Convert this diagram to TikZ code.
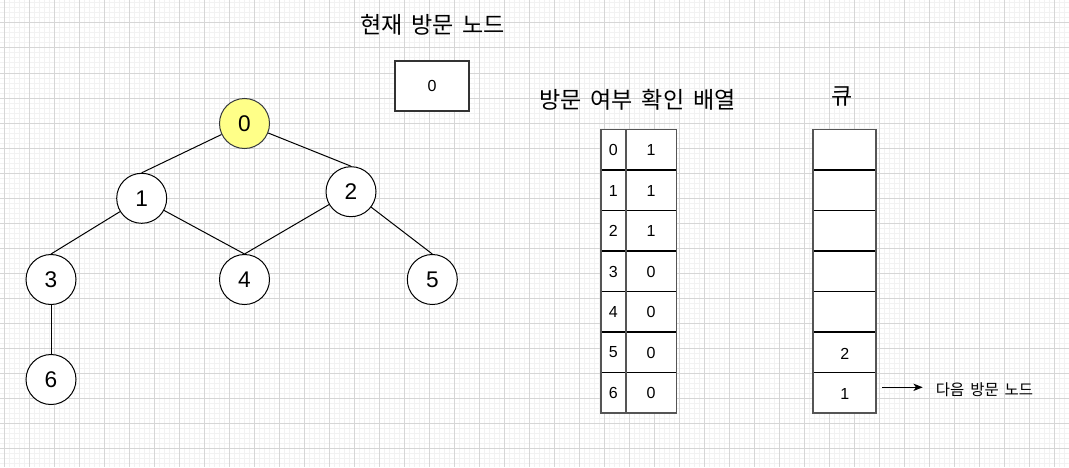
\documentclass[tikz,border=0pt]{standalone}
\usepackage{fontspec}
\setmainfont{Liberation Sans}
\newfontfamily\kr{Noto Sans CJK KR}
\usetikzlibrary{arrows.meta}
\newcommand{\ks}{\hspace{0.38em}}
\definecolor{minorgrid}{RGB}{242,242,242}
\definecolor{majorgrid}{RGB}{214,214,214}
\definecolor{visitfill}{RGB}{255,255,136}
\definecolor{visitdraw}{RGB}{54,57,61}
\definecolor{boxdraw}{RGB}{51,51,51}
\definecolor{tabdraw}{RGB}{85,85,85}
\tikzset{
  gridminor/.style={draw=minorgrid,line width=0.75pt},
  gridmajor/.style={draw=majorgrid,line width=0.75pt},
  treenode/.style={circle,draw=black,fill=white,line width=0.75pt,minimum size=37.5pt,inner sep=0pt,font=\fontsize{17}{20}\selectfont},
  visited/.style={treenode,draw=visitdraw,fill=visitfill},
  edge/.style={draw=black,line width=0.75pt},
  title/.style={font=\kr\fontsize{17.3}{20}\selectfont,inner sep=0pt},
  cell/.style={font=\fontsize{12}{14}\selectfont,inner sep=0pt},
  tabline/.style={draw=tabdraw,line width=1.4pt},
  rowline/.style={draw=black,line width=0.8pt},
  curbox/.style={draw=boxdraw,line width=2.2pt,fill=white,minimum width=55.5pt,minimum height=37.5pt,inner sep=0pt,font=\fontsize{12}{14}\selectfont}
}
\begin{document}
\begin{tikzpicture}[x=0.75pt,y=-0.75pt]
\useasboundingbox (0,0) rectangle (1069,467);
\fill[white] (0,0) rectangle (1069,467);
% grid
\foreach \x in {4,9,...,1069} \draw[gridminor] (\x,0) -- (\x,467);
\foreach \y in {3,8,...,467} \draw[gridminor] (0,\y) -- (1069,\y);
\foreach \x in {4,29,...,1069} \draw[gridmajor] (\x,0) -- (\x,467);
\foreach \y in {23,48,...,467} \draw[gridmajor] (0,\y) -- (1069,\y);

% titles
\node[title] (tcur) at (432.5,25) {현재\ks 방문\ks 노드};
\node[title] (tarr) at (637.5,100) {방문\ks 여부\ks 확인\ks 배열};
\node[title] (tq) at (842.5,96) {큐};

% current node box
\node[curbox] (cur) at (432,86) {0};

% tree
\node[visited] (n0) at (244.5,123.5) {0};
\node[treenode] (n1) at (141.7,198.3) {1};
\node[treenode] (n2) at (351,191.7) {2};
\node[treenode] (n3) at (51,279.5) {3};
\node[treenode] (n4) at (244.5,279.5) {4};
\node[treenode] (n5) at (432.3,279.5) {5};
\node[treenode] (n6) at (51,379.5) {6};
\draw[edge] (n0) -- (n1.north);
\draw[edge] (n0) -- (n2.north);
\draw[edge] (n1) -- (n3.north);
\draw[edge] (n1) -- (n4.north);
\draw[edge] (n2) -- (n4.north);
\draw[edge] (n2) -- (n5.north);
\draw[edge] (n3) -- (n6.north);

% visited array
\fill[white] (600.7,129.5) rectangle (676.5,413);
\foreach \i in {1,...,6} \draw[rowline] (600.7,129.5+40.5*\i) -- (676.5,129.5+40.5*\i);
\draw[tabline] (625.7,129.5) -- (625.7,413);
\draw[tabline] (600.7,129.5) rectangle (676.5,413);
\foreach \k/\v in {0/1,1/1,2/1,3/0,4/0,5/0,6/0} {
  \node[cell] (ai\k) at (613.2,150+40.5*\k) {\k};
  \node[cell] (av\k) at (651.1,150+40.5*\k) {\v};
}

% queue
\fill[white] (813.3,129.5) rectangle (876.3,413);
\foreach \i in {1,...,6} \draw[rowline] (813.3,129.5+40.5*\i) -- (876.3,129.5+40.5*\i);
\draw[tabline] (813.3,129.5) rectangle (876.3,413);
\node[cell] (q5) at (844.8,353.5) {2};
\node[cell] (q6) at (844.8,394) {1};

% next node arrow
\coordinate (arS) at (882.3,387.3);
\node[font=\kr\fontsize{11.6}{13}\selectfont,inner sep=0pt] (nxt) at (984.5,390) {다음\ks 방문\ks 노드};
\coordinate (arE) at (922.7,387.3);
\draw[line width=0.75pt,-{Stealth[length=7pt,width=5.5pt,inset=2pt]}] (arS) -- (arE);
\end{tikzpicture}
\end{document}
